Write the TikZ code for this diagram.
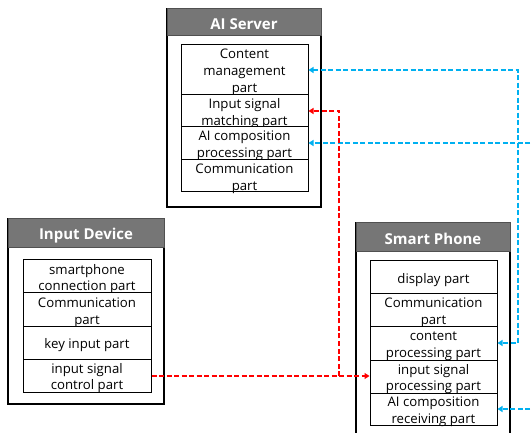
\documentclass[tikz,border=0pt]{standalone}
\usepackage{fontspec}
\setmainfont{Open Sans}
\usetikzlibrary{arrows.meta}
\definecolor{hdr}{RGB}{118,118,118}
\definecolor{hdrline}{RGB}{80,80,80}
\definecolor{blueln}{RGB}{0,176,240}
\definecolor{redln}{RGB}{255,0,0}
\newcommand{\mkpart}[5]{%
  \node[part,minimum width=#2,minimum height=#3] (#1) at (#4) {};
  \node[ptxt] (#1t) at ([yshift=-2.5pt]#1.center) {#5};}
\newcommand{\mkhead}[5]{%
  \node[header,minimum width=#2,minimum height=#3] (#1) at (#4) {};
  \node[htxt] (#1t) at ([yshift=-1.8pt]#1.center) {#5};}
\begin{document}
\begin{tikzpicture}[x=1pt,y=-1pt,
  outer/.style={draw=black,line width=1.3pt,fill=white,inner sep=0pt},
  header/.style={draw=hdrline,fill=hdr,line width=1pt,inner sep=0pt},
  htxt/.style={text=white,inner sep=0pt,font=\fontsize{15}{18}\selectfont\bfseries},
  part/.style={draw=black,line width=1pt,fill=white,inner sep=0pt},
  ptxt/.style={inner sep=0pt,align=center,font=\fontsize{13.2}{16.8}\selectfont},
  conn/.style={line width=2pt,dash pattern=on 5pt off 2.5pt},
  tip/.style={-{Triangle[length=5pt,width=6pt]}},
  tips/.style={{Triangle[length=5pt,width=6pt]}-{Triangle[length=5pt,width=6pt]}}
]
\useasboundingbox (0,0) rectangle (531,433);
\clip (0,0) rectangle (531,433);

% AI Server
\node[outer,minimum width=154pt,minimum height=198pt] (srv) at (244,108) {};
\mkhead{srvh}{154pt}{27pt}{244,22.5}{AI Server}
\mkpart{cm}{127pt}{50pt}{244.5,70}{Content\\management\\part}
\mkpart{ism}{127pt}{32pt}{244.5,111}{Input signal\\matching part}
\mkpart{aic}{127pt}{33pt}{244.5,143.5}{AI composition\\processing part}
\mkpart{scom}{127pt}{32pt}{244.5,176}{Communication\\part}

% Input Device
\node[outer,minimum width=156pt,minimum height=185pt] (idv) at (86,311.5) {};
\mkhead{idvh}{156pt}{29pt}{86,233.5}{Input Device}
\mkpart{scp}{128pt}{33pt}{87,276.5}{smartphone\\connection part}
\mkpart{icom}{128pt}{34pt}{87,310}{Communication\\part}
\mkpart{kip}{128pt}{32pt}{87,343}{key input part}
\mkpart{isc}{128pt}{33pt}{87,375.5}{input signal\\control part}

% Smart Phone
\node[outer,minimum width=154pt,minimum height=227pt] (sp) at (433,336.5) {};
\mkhead{sph}{154pt}{29pt}{433,237.5}{Smart Phone}
\mkpart{dp}{127pt}{33pt}{433.5,277.5}{display part}
\mkpart{pcom}{127pt}{33pt}{433.5,310.5}{Communication\\part}
\mkpart{cpp}{127pt}{33pt}{433.5,343.5}{content\\processing part}
\mkpart{isp}{127pt}{33pt}{433.5,376.5}{input signal\\processing part}
\mkpart{aicr}{127pt}{32pt}{433.5,409}{AI composition\\receiving part}

% connectors
\coordinate (bt) at (518,70);
\coordinate (bb) at (518,343);
\coordinate (rj) at (339,376);
\coordinate (rt) at (339,111);
\coordinate (e1) at (545,143);
\coordinate (e2) at (545,409);
\draw[conn,blueln,tips] (cm.east |- bt) -- (bt) -- (bb) -- (cpp.east |- bb);
\draw[conn,blueln,tip] (e1) -- (aic.east |- e1);
\draw[conn,blueln,tip] (e2) -- (aicr.east |- e2);
\draw[conn,redln,tip] (isc.east |- rj) -- (isp.west |- rj);
\draw[conn,redln,tip] (rj) -- (rt) -- (ism.east |- rt);
\end{tikzpicture}
\end{document}
